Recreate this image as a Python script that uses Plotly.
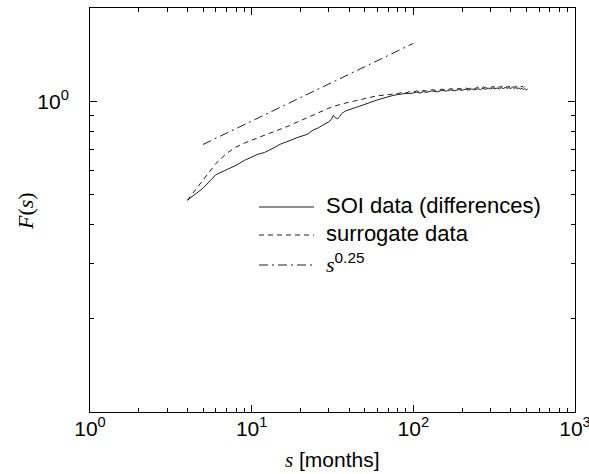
import plotly.graph_objects as go

# ---- data ----
s_vals = [4, 5, 6, 7, 8, 9, 10, 11, 12, 13, 14, 15, 16, 17, 18, 19, 20,
          22, 24, 26, 28, 30, 31, 32, 33, 34, 35, 36, 38, 40, 42, 44, 46, 48, 50,
          53, 56, 60, 64, 68, 72, 76, 80, 85, 90, 95, 100, 105, 110, 115, 120,
          130, 140, 150, 160, 170, 180, 190, 200, 210, 220, 230, 240, 250, 260,
          270, 280, 290, 300, 310, 320, 330, 340, 350, 360, 370, 380, 390, 400,
          410, 420, 430, 440, 450, 460, 470, 480, 490, 500, 510]

soi_F = [0.480, 0.525, 0.580, 0.603, 0.622, 0.645, 0.662, 0.676, 0.684, 0.697,
         0.712, 0.727, 0.735, 0.744, 0.754, 0.763, 0.770,
         0.782, 0.808, 0.822, 0.842, 0.858, 0.872, 0.900, 0.884, 0.878, 0.893,
         0.912, 0.930, 0.940, 0.948, 0.955, 0.962, 0.970, 0.977,
         0.990, 0.996, 1.010, 1.020, 1.030, 1.036, 1.046, 1.050, 1.055, 1.060,
         1.058, 1.065, 1.070, 1.062, 1.074, 1.068,
         1.080, 1.072, 1.083, 1.078, 1.088, 1.080, 1.090, 1.084, 1.093, 1.086,
         1.096, 1.088, 1.098, 1.090, 1.100, 1.092, 1.102, 1.094, 1.104, 1.096,
         1.103, 1.095, 1.106, 1.098, 1.108, 1.100, 1.106, 1.098, 1.110, 1.100,
         1.106, 1.096, 1.104, 1.094, 1.102, 1.090, 1.098, 1.088, 1.094]

surr_F = [0.480, 0.555, 0.630, 0.680, 0.712, 0.733, 0.750, 0.765, 0.778, 0.790,
          0.801, 0.811, 0.822, 0.833, 0.845, 0.856, 0.866,
          0.882, 0.905, 0.922, 0.938, 0.950, 0.956, 0.962, 0.966, 0.972, 0.976,
          0.980, 0.986, 0.992, 0.998, 1.004, 1.008, 1.014, 1.022,
          1.030, 1.032, 1.042, 1.044, 1.052, 1.050, 1.060, 1.058, 1.068, 1.064,
          1.074, 1.070, 1.080, 1.072, 1.084, 1.078,
          1.090, 1.082, 1.094, 1.086, 1.098, 1.090, 1.100, 1.094, 1.104, 1.096,
          1.108, 1.098, 1.110, 1.100, 1.112, 1.104, 1.114, 1.106, 1.116, 1.106,
          1.118, 1.108, 1.118, 1.110, 1.120, 1.110, 1.118, 1.108, 1.120, 1.110,
          1.118, 1.108, 1.120, 1.110, 1.118, 1.108, 1.120, 1.110, 1.114]

fit_s = [5, 100]
fit_F = [0.726, 1.535]

x_tickvals = [1, 10, 100, 1000]
x_ticktext = ["10<sup>0</sup>", "10<sup>1</sup>", "10<sup>2</sup>", "10<sup>3</sup>"]
x_minor = [2, 3, 4, 5, 6, 7, 8, 9, 20, 30, 40, 50, 60, 70, 80, 90,
           200, 300, 400, 500, 600, 700, 800, 900]
y_tickvals = [1]
y_ticktext = ["10<sup>0</sup>"]
y_minor = [0.2, 0.3, 0.4, 0.5, 0.6, 0.7, 0.8, 0.9]

legend_labels = ["SOI data (differences)", "surrogate data",
                 "<span style='font-family:Liberation Serif'><i>s</i></span><sup>0.25</sup>"]

x_title = "<span style='font-family:Liberation Serif'><i>s</i></span> [months]"
y_title = "<i>F</i>(<i>s</i>)"

assert len(s_vals) == len(soi_F) == len(surr_F)

LINE = "#202020"
SANS = "Liberation Sans, Arial, sans-serif"
SERIF = "Liberation Serif, Times New Roman, serif"

FIG_W, FIG_H = 589, 474
# plot-area edges in pixels
L, R, T, B = 90, 575, 8, 412
W, H = R - L, B - T
def px(xp):
    return (xp - L) / W
def py(yp):
    return (B - yp) / H

fig = go.Figure()
fig.add_trace(go.Scatter(x=s_vals, y=soi_F, mode="lines",
                         line=dict(color=LINE, width=1), showlegend=False))
fig.add_trace(go.Scatter(x=s_vals, y=surr_F, mode="lines",
                         line=dict(color=LINE, width=1, dash="5px,4px"), showlegend=False))
fig.add_trace(go.Scatter(x=fit_s, y=fit_F, mode="lines",
                         line=dict(color=LINE, width=1, dash="9px,4px,2px,4px"), showlegend=False))

rows_y = [207, 235, 265]
dashes = ["solid", "5px,4px", "9px,4px,2px,4px"]
for yy, dash, lab in zip(rows_y, dashes, legend_labels):
    fig.add_shape(type="line", xref="paper", yref="paper",
                  x0=px(259), x1=px(314), y0=py(yy), y1=py(yy),
                  line=dict(color=LINE, width=1, dash=dash))
    fig.add_annotation(xref="paper", yref="paper", x=px(324), y=py(yy - 2),
                       text=lab, showarrow=False, xanchor="left", yanchor="middle",
                       font=dict(family=SANS, size=22, color="#000"))

fig.add_annotation(xref="paper", yref="paper", x=px(332), y=py(460),
                   text=x_title, showarrow=False, xanchor="center", yanchor="middle",
                   font=dict(family=SANS, size=21, color="#000"))
fig.add_annotation(xref="paper", yref="paper", x=px(25), y=py(211),
                   text=y_title, showarrow=False, xanchor="center", yanchor="middle",
                   textangle=-90, font=dict(family=SERIF, size=22, color="#000"))

axis_common = dict(type="log", showgrid=False, zeroline=False, showline=True,
                   linecolor="#000", linewidth=1, mirror="allticks",
                   ticks="inside", ticklen=7, tickwidth=1, tickcolor="#000",
                   automargin=False, ticklabeloverflow="allow",
                   tickfont=dict(family=SANS, size=21, color="#000"))

fig.update_xaxes(**axis_common, range=[0, 3], tickvals=x_tickvals, ticktext=x_ticktext,
                 ticklabelstandoff=-2,
                 minor=dict(tickvals=x_minor, ticks="inside", ticklen=4, tickcolor="#000"))
fig.update_yaxes(**axis_common, range=[-1, 0.30], tickvals=y_tickvals, ticktext=y_ticktext,
                 ticklabelstandoff=16,
                 minor=dict(tickvals=y_minor, ticks="inside", ticklen=4, tickcolor="#000"))

fig.update_layout(width=FIG_W, height=FIG_H,
                  margin=dict(l=L, r=FIG_W - R, t=T, b=FIG_H - B),
                  plot_bgcolor="white", paper_bgcolor="white")

# remove the browser's default 8px body margin so the figure fills the window exactly
fig.write_html("out.html",
               config={"displayModeBar": False},
               post_script="document.body.style.margin='0';document.body.style.overflow='hidden';")
